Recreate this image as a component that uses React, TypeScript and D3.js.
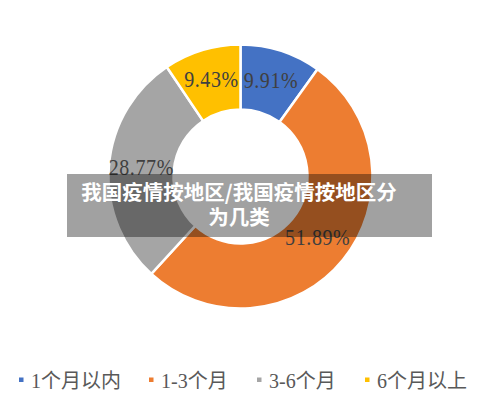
import React from "react";
import * as d3 from "d3";

const categories = ["1个月以内", "1-3个月", "3-6个月", "6个月以上"];
const shares = [9.91, 51.89, 28.77, 9.43];
const shareLabels = ["9.91%", "51.89%", "28.77%", "9.43%"];
const colors = ["#4472C4", "#ED7D31", "#A5A5A5", "#FFC000"];
const bannerLines = ["我国疫情按地区/我国疫情按地区分", "为几类"];

const width = 500;
const height = 411;
const cx = 240.5;
const cy = 176.5;
const outerR = 132;
const innerR = 67;

// legend item x positions (marker left edge)
const legendX = [19, 149, 257, 365];

export default function App() {
    const pie = d3.pie<number>().sort(null).value(d => d);
    const arcs = pie(shares);
    const arc = d3.arc<d3.PieArcDatum<number>>().innerRadius(innerR).outerRadius(outerR);
    const labelArc = d3.arc<d3.PieArcDatum<number>>()
        .innerRadius((innerR + outerR) / 2)
        .outerRadius((innerR + outerR) / 2);

    return (
        <div style={{ position: "absolute", left: 0, top: 0, width, height, background: "#fff" }}>
            <svg width={width} height={height}>
                <g transform={`translate(${cx},${cy})`}>
                    {arcs.map((a, i) => (
                        <path key={i} d={arc(a) || ""} fill={colors[i]} stroke="#fff" strokeWidth={2.5} />
                    ))}
                    {arcs.map((a, i) => {
                        const [x, y] = labelArc.centroid(a);
                        // taller, narrower digits like the original's font
                        return (
                            <text
                                key={i}
                                transform={`translate(${x},${y + 6}) scale(1,1.15)`}
                                textAnchor="middle"
                                fontFamily="'Liberation Serif', serif"
                                fontSize={20}
                                letterSpacing={0.6}
                                fill="#404040"
                            >
                                {shareLabels[i]}
                            </text>
                        );
                    })}
                </g>

                {categories.map((c, i) => (
                    <g key={c} transform={`translate(${legendX[i]},0)`}>
                        <rect x={0} y={377.5} width={4.5} height={4.5} fill={colors[i]} />
                        <text
                            x={12}
                            y={388}
                            fontFamily="'Liberation Serif', 'Noto Sans CJK SC', serif"
                            fontSize={20}
                            fill="#595959"
                        >
                            {c}
                        </text>
                    </g>
                ))}

                <rect x={67} y={174} width={365} height={63} fill="rgba(0,0,0,0.37)" />
                {bannerLines.map((line, i) => (
                    <text
                        key={i}
                        x={239}
                        y={199.5 + i * 25}
                        textAnchor="middle"
                        fontFamily="'Noto Sans CJK SC', sans-serif"
                        fontWeight="bold"
                        fontSize={20.5}
                        fill="#fff"
                    >
                        {line}
                    </text>
                ))}
            </svg>
        </div>
    );
}
